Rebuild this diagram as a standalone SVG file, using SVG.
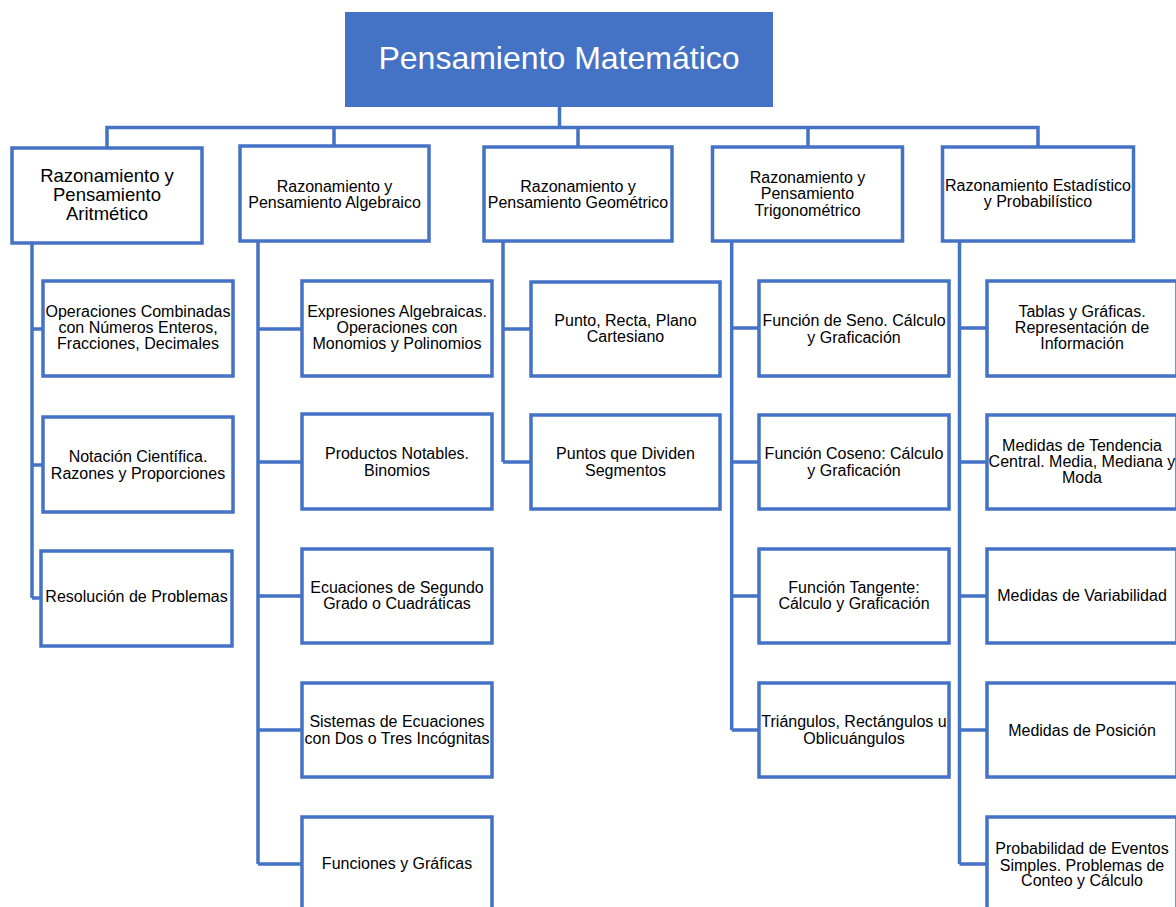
<svg xmlns="http://www.w3.org/2000/svg" width="1176" height="907" viewBox="0 0 1176 907">
<style>
.box{fill:#fff;stroke:#4472C4;stroke-width:3.5}
.con{fill:none;stroke:#4472C4;stroke-width:3.5}
text{font-family:"Liberation Sans",Arial,sans-serif;fill:#000;text-anchor:middle}
.t16{font-size:16px}
.t18{font-size:18.5px}
.title{font-size:32px;fill:#fff}
</style>
<rect width="1176" height="907" fill="#fff"/>
<g id="connectors" class="con">
<path d="M559.5,107 V127.5 M107,148 V127.5 H1038 V148 M334,127.5 V146 M578,127.5 V147 M808,127.5 V147"/>
<path d="M32,243 V598 M32,329 H43 M32,465 H43 M32,598 H41"/>
<path d="M258,241 V864 M258,329 H302 M258,462 H302 M258,596 H302 M258,730 H302 M258,864 H302"/>
<path d="M503,241 V462 M503,329 H531 M503,462 H531"/>
<path d="M731.7,241 V730 M731.7,328 H759 M731.7,462 H759 M731.7,596 H759 M731.7,730 H759"/>
<path d="M959.5,241 V864 M959.5,328 H987 M959.5,462 H987 M959.5,596 H987 M959.5,730 H987 M959.5,864 H987"/>
</g>
<g id="root">
<rect x="345" y="12" width="428" height="95" fill="#4472C4"/>
<text class="title" x="559" y="69">Pensamiento Matemático</text>
</g>
<g id="n1">
<rect class="box" x="12" y="148" width="190" height="95"/>
<text class="t18" x="107" y="182">Razonamiento y</text>
<text class="t18" x="107" y="201">Pensamiento</text>
<text class="t18" x="107" y="220">Aritmético</text>
</g>
<g id="n2">
<rect class="box" x="240" y="146" width="189" height="95"/>
<text class="t16" x="334.5" y="191.5">Razonamiento y</text>
<text class="t16" x="334.5" y="207.5">Pensamiento Algebraico</text>
</g>
<g id="n3">
<rect class="box" x="484" y="147" width="188" height="94"/>
<text class="t16" x="578" y="191.5">Razonamiento y</text>
<text class="t16" x="578" y="207.5">Pensamiento Geométrico</text>
</g>
<g id="n4">
<rect class="box" x="712.5" y="147" width="190" height="94"/>
<text class="t16" x="807.5" y="182.5">Razonamiento y</text>
<text class="t16" x="807.5" y="199">Pensamiento</text>
<text class="t16" x="807.5" y="215.5">Trigonométrico</text>
</g>
<g id="n5">
<rect class="box" x="942.5" y="147" width="191" height="94"/>
<text class="t16" x="1038" y="190.5">Razonamiento Estadístico</text>
<text class="t16" x="1038" y="207">y Probabilístico</text>
</g>
<g id="n1a">
<rect class="box" x="43" y="281" width="190" height="95"/>
<text class="t16" x="138" y="317">Operaciones Combinadas</text>
<text class="t16" x="138" y="333">con Números Enteros,</text>
<text class="t16" x="138" y="349">Fracciones, Decimales</text>
</g>
<g id="n1b">
<rect class="box" x="43" y="417" width="190" height="95"/>
<text class="t16" x="138" y="462">Notación Científica.</text>
<text class="t16" x="138" y="478.5">Razones y Proporciones</text>
</g>
<g id="n1c">
<rect class="box" x="41" y="551" width="191" height="95"/>
<text class="t16" x="136.5" y="602">Resolución de Problemas</text>
</g>
<g id="n2a">
<rect class="box" x="302" y="281" width="190" height="95"/>
<text class="t16" x="397" y="317">Expresiones Algebraicas.</text>
<text class="t16" x="397" y="333">Operaciones con</text>
<text class="t16" x="397" y="349">Monomios y Polinomios</text>
</g>
<g id="n2b">
<rect class="box" x="302" y="414" width="190" height="95"/>
<text class="t16" x="397" y="459">Productos Notables.</text>
<text class="t16" x="397" y="476">Binomios</text>
</g>
<g id="n2c">
<rect class="box" x="302" y="549" width="190" height="94"/>
<text class="t16" x="397" y="593">Ecuaciones de Segundo</text>
<text class="t16" x="397" y="609">Grado o Cuadráticas</text>
</g>
<g id="n2d">
<rect class="box" x="302" y="683" width="190" height="94"/>
<text class="t16" x="397" y="727">Sistemas de Ecuaciones</text>
<text class="t16" x="397" y="744">con Dos o Tres Incógnitas</text>
</g>
<g id="n2e">
<rect class="box" x="302" y="817" width="190" height="100"/>
<text class="t16" x="397" y="869">Funciones y Gráficas</text>
</g>
<g id="n3a">
<rect class="box" x="531" y="282" width="189" height="94"/>
<text class="t16" x="625.5" y="325.5">Punto, Recta, Plano</text>
<text class="t16" x="625.5" y="341.5">Cartesiano</text>
</g>
<g id="n3b">
<rect class="box" x="531" y="415" width="189" height="94"/>
<text class="t16" x="625.5" y="458.5">Puntos que Dividen</text>
<text class="t16" x="625.5" y="475.5">Segmentos</text>
</g>
<g id="n4a">
<rect class="box" x="759" y="281" width="190" height="95"/>
<text class="t16" x="854" y="325.5">Función de Seno. Cálculo</text>
<text class="t16" x="854" y="342.5">y Graficación</text>
</g>
<g id="n4b">
<rect class="box" x="759" y="415" width="190" height="94"/>
<text class="t16" x="854" y="459">Función Coseno: Cálculo</text>
<text class="t16" x="854" y="476">y Graficación</text>
</g>
<g id="n4c">
<rect class="box" x="759" y="549" width="190" height="94"/>
<text class="t16" x="854" y="593">Función Tangente:</text>
<text class="t16" x="854" y="609">Cálculo y Graficación</text>
</g>
<g id="n4d">
<rect class="box" x="759" y="683" width="190" height="94"/>
<text class="t16" x="854" y="727">Triángulos, Rectángulos u</text>
<text class="t16" x="854" y="744">Oblicuángulos</text>
</g>
<g id="n5a">
<rect class="box" x="987" y="281" width="190" height="95"/>
<text class="t16" x="1082" y="317">Tablas y Gráficas.</text>
<text class="t16" x="1082" y="333">Representación de</text>
<text class="t16" x="1082" y="349">Información</text>
</g>
<g id="n5b">
<rect class="box" x="987" y="415" width="190" height="94"/>
<text class="t16" x="1082" y="451">Medidas de Tendencia</text>
<text class="t16" x="1082" y="467">Central. Media, Mediana y</text>
<text class="t16" x="1082" y="483">Moda</text>
</g>
<g id="n5c">
<rect class="box" x="987" y="549" width="190" height="94"/>
<text class="t16" x="1082" y="600.5">Medidas de Variabilidad</text>
</g>
<g id="n5d">
<rect class="box" x="987" y="683" width="190" height="94"/>
<text class="t16" x="1082" y="735.5">Medidas de Posición</text>
</g>
<g id="n5e">
<rect class="box" x="987" y="817" width="190" height="100"/>
<text class="t16" x="1082" y="854">Probabilidad de Eventos</text>
<text class="t16" x="1082" y="870.5">Simples. Problemas de</text>
<text class="t16" x="1082" y="886">Conteo y Cálculo</text>
</g>
</svg>
